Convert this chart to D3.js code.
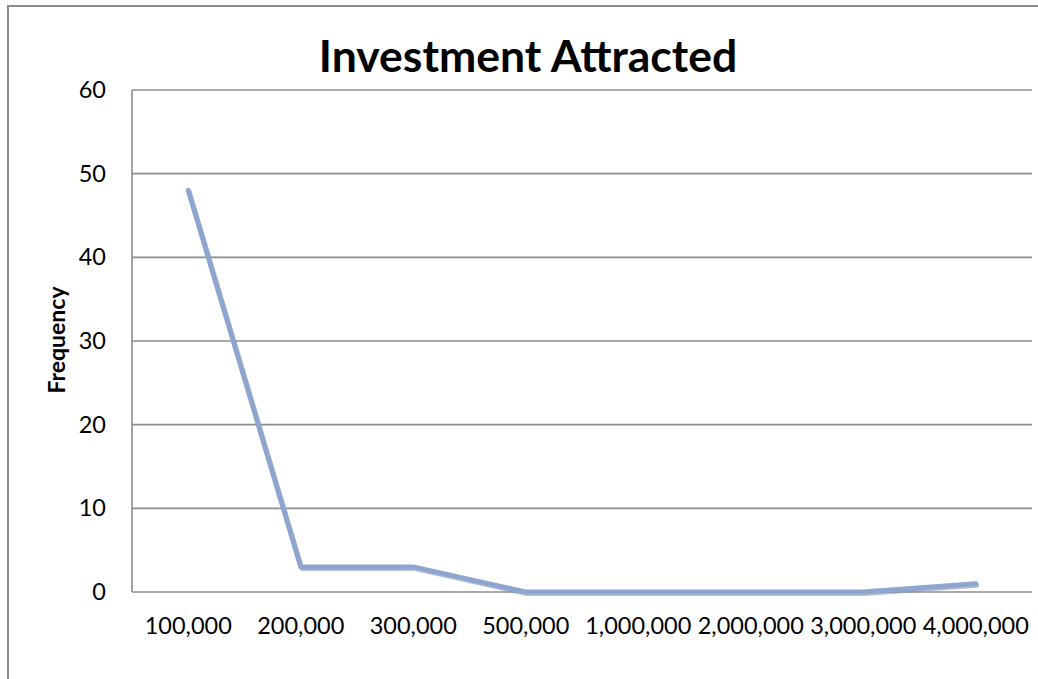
<!DOCTYPE html>
<html><head><meta charset="utf-8">
<script src="https://cdn.jsdelivr.net/npm/d3@7/dist/d3.min.js"></script>
<style>html,body{margin:0;padding:0;background:#fff;}svg{display:block;}</style>
</head><body>
<svg id="chart" width="1038" height="679"></svg>
<script>
const categories = ["100,000","200,000","300,000","500,000","1,000,000","2,000,000","3,000,000","4,000,000"];
const frequency = [48, 3, 3, 0, 0, 0, 0, 1];
const yTicks = [0,10,20,30,40,50,60];
const titleText = "Investment Attracted";
const yLabel = "Frequency";

const svg = d3.select("#chart");
const m = {left:132, top:90, right:1032, bottom:592};
const font = "Lato, 'Open Sans', sans-serif";

// outer frame
svg.append("rect").attr("x",8).attr("y",6).attr("width",1100).attr("height",800)
  .attr("fill","none").attr("stroke","#8c8c8c").attr("stroke-width",2);

const x = d3.scaleBand().domain(categories).range([m.left,m.right]);
const y = d3.scaleLinear().domain([0,60]).range([m.bottom,m.top]);

// gridlines
svg.append("g").selectAll("line").data(yTicks).join("line")
  .attr("x1",m.left).attr("x2",m.right)
  .attr("y1",d=>y(d)).attr("y2",d=>y(d))
  .attr("stroke","#8c8c8c").attr("stroke-width",1.6);

// left axis line
svg.append("line").attr("x1",m.left).attr("x2",m.left).attr("y1",m.top).attr("y2",m.bottom)
  .attr("stroke","#8c8c8c").attr("stroke-width",1.6);

// y axis labels
const yAxis = d3.axisLeft(y).tickValues(yTicks).tickSize(0).tickPadding(26);
const gy = svg.append("g").attr("transform",`translate(${m.left},0)`).call(yAxis);
gy.select(".domain").remove();
gy.selectAll("text").attr("font-family",font).attr("font-size",23.5).attr("fill","#000");

// x axis labels
const xAxis = d3.axisBottom(x).tickSize(0).tickPadding(25);
const gx = svg.append("g").attr("transform",`translate(0,${m.bottom})`).call(xAxis);
gx.select(".domain").remove();
gx.selectAll("text").attr("font-family",font).attr("font-size",23.5).attr("fill","#000");

// line
const line = d3.line().x((d,i)=>x(categories[i])+x.bandwidth()/2).y(d=>y(d));
svg.append("path").datum(frequency).attr("d",line)
  .attr("fill","none").attr("stroke","#7f93b5").attr("stroke-width",5)
  .attr("stroke-linecap","round").attr("stroke-linejoin","round")
  .attr("transform","translate(1,1.5)").attr("opacity",0.6);
svg.append("path").datum(frequency).attr("d",line)
  .attr("fill","none").attr("stroke","#8ea6cf").attr("stroke-width",5)
  .attr("stroke-linecap","round").attr("stroke-linejoin","round");

// title
svg.append("text").attr("x",528).attr("y",72).attr("text-anchor","middle")
  .attr("font-family",font).attr("font-weight","bold").attr("font-size",44.5)
  .attr("fill","#000").text(titleText);

// y label
svg.append("text").attr("transform","translate(65,340) rotate(-90)")
  .attr("text-anchor","middle").attr("font-family",font).attr("font-weight","bold")
  .attr("font-size",23).attr("fill","#000").text(yLabel);
</script>
</body></html>
